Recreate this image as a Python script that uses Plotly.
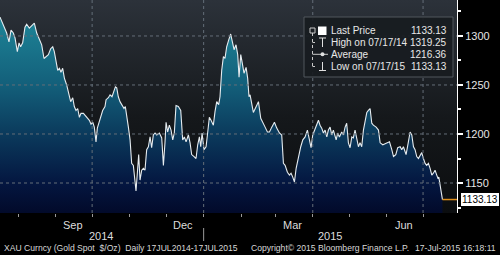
import plotly.graph_objects as go
import pandas as pd

# ---------------- data ----------------
start_date = "2014-07-17"
day_offsets = [
    0, 2.8, 5.5, 7.4, 9.1, 11, 12.4, 14.3, 15.7, 17, 18.7, 20.6, 22, 24.2, 26.1, 28.3,
    30.3, 32.5, 34.4, 36.3, 38, 39.9, 41.8, 43.5, 44.8, 46.2, 47.6, 49, 50.3, 51.7,
    53.1, 55, 56.4, 58.3, 60, 61.3, 62.7, 64.1, 65.5, 66.8, 68.8, 70.1, 72, 73.7,
    75.1, 76.5, 77.8, 79.2, 80.3, 81.7, 83, 84.7, 86.6, 87.5, 89.4, 90.8, 92.4, 93.5,
    95.2, 96.3, 97.6, 99, 100.7, 102.3, 103.4, 104.5, 105.9, 107.3, 108.6, 110,
    111.1, 112.2, 113.3, 114.4, 115.5, 116.9, 118.3, 119.6, 121, 122.4, 123.8,
    125.1, 126.5, 127.9, 129.3, 131.5, 133.4, 134.8, 136.1, 137, 138.3, 139.7,
    141.1, 142.5, 143.8, 145.2, 147.1, 149.1, 150.7, 152.1, 153.5, 155.4, 156.8,
    158.1, 160.1, 161.7, 163.1, 164.5, 165.6, 166.7, 168.3, 170, 171.1, 172.7,
    174.1, 176, 177.4, 178.8, 180.4, 181.5, 182.9, 184.3, 185.6, 187, 188.7, 190.3,
    191.7, 193.1, 194.7, 196.1, 197.2, 198.6, 199.9, 201.3, 203, 204.3, 205.4,
    206.3, 209, 211.3, 213.2, 215.1, 216.8, 218.7, 220.6, 222.3, 224.2, 226.4,
    228.3, 230.5, 232.4, 233.8, 235.2, 237.1, 238.8, 240.1, 241.5, 242.9, 244.3,
    246.2, 248.1, 249.8, 251.7, 253.6, 255.3, 256.6, 258, 259.4, 260.8, 262.7, 264,
    265.4, 266.8, 268.2, 269.6, 270.9, 272.3, 273.7, 275, 277.3, 278.6, 280, 281.9,
    283.3, 284.7, 286, 287.4, 288.8, 290.2, 291.5, 292.9, 294.3, 295.7, 297, 298.4,
    299.8, 301.2, 302.6, 303.9, 305.3, 306.7, 308, 310.3, 312.2, 313.6, 315.8,
    317.7, 319.6, 321.3, 323.2, 324.6, 326.5, 328.1, 330.1, 331.4, 332.8, 335,
    336.9, 338.3, 339.7, 341.1, 342.4, 343.8, 345.2, 346.6, 347.9, 349.3, 350.7, 352,
    353.4, 354.8, 356.2, 357.5, 358.9, 360.3, 361.2, 362, 362.8, 363.6, 364.3, 365,
]
prices = [
    1319.25, 1311, 1303, 1294, 1306, 1303, 1298, 1284, 1293, 1289, 1293, 1309, 1312, 1308, 1310, 1313,
    1303, 1296, 1291, 1277, 1279, 1281, 1287, 1289, 1284, 1274, 1265, 1267, 1263, 1267,
    1257, 1250, 1242, 1233, 1237, 1228, 1224, 1226, 1217, 1221, 1221, 1219, 1217, 1214,
    1210, 1212, 1207, 1192, 1206, 1212, 1219, 1224, 1228, 1235, 1237, 1240, 1238, 1243,
    1248, 1247, 1238, 1233, 1230, 1226, 1228, 1216, 1207, 1194, 1170, 1168,
    1153, 1142, 1160, 1179, 1153, 1163, 1165, 1163, 1184, 1187, 1197,
    1186, 1199, 1201, 1199, 1201, 1196, 1168, 1191, 1212, 1202, 1209,
    1204, 1194, 1201, 1229, 1228, 1224, 1194, 1197, 1192, 1199, 1191,
    1179, 1177, 1175, 1189, 1197, 1187, 1201, 1184, 1187, 1199, 1217,
    1214, 1209, 1223, 1233, 1230, 1238, 1265, 1279, 1277, 1289, 1296, 1302,
    1294, 1286, 1291, 1281, 1258, 1281, 1272, 1262, 1268, 1257, 1238,
    1240, 1222, 1228, 1233, 1216, 1211, 1207, 1202, 1202, 1207, 1212,
    1206, 1201, 1199, 1170, 1168, 1161, 1158, 1160, 1156, 1151, 1165,
    1177, 1187, 1194, 1197, 1204, 1194, 1186, 1199, 1204, 1207, 1214, 1209,
    1206, 1201, 1204, 1197, 1204, 1207, 1199, 1204, 1194, 1201, 1197, 1202,
    1199, 1207, 1211, 1191, 1186, 1197, 1196, 1204, 1194, 1187, 1191, 1187,
    1204, 1212, 1222, 1224, 1226, 1211, 1209, 1207, 1204, 1191, 1189,
    1190, 1191, 1192, 1184, 1177, 1179, 1186, 1187, 1184, 1187, 1179,
    1192, 1202, 1199, 1187, 1184, 1177, 1175, 1179, 1181, 1175, 1170, 1168,
    1170, 1165, 1158, 1160, 1163, 1158, 1155, 1156, 1150, 1143, 1135, 1133.13,
]
last_price = 1133.13

y_ticks = [1150, 1200, 1250, 1300]
y_range = [1119.4, 1336.7]
x_range = ["2014-07-17", "2015-07-29"]
quarter_lines = ["2014-10-01", "2015-01-01", "2015-04-01", "2015-07-01"]
month_starts = ["2014-08-01", "2014-09-01", "2014-10-01", "2014-11-01", "2014-12-01",
                "2015-01-01", "2015-02-01", "2015-03-01", "2015-04-01", "2015-05-01",
                "2015-06-01", "2015-07-01"]
month_label_dates = ["2014-09-15", "2014-12-15", "2015-03-15", "2015-06-15"]
month_labels = ["Sep", "Dec", "Mar", "Jun"]
year_label_dates = ["2014-10-08", "2015-04-15"]
year_labels = ["2014", "2015"]
year_separator = "2015-01-01"

legend_labels = ["Last Price", "High on 07/17/14", "Average", "Low on 07/17/15"]
legend_values = ["1133.13", "1319.25", "1216.36", "1133.13"]

footer_left = "XAU Curncy (Gold Spot  $/Oz)  Daily 17JUL2014-17JUL2015"
footer_mid = "Copyright\u00a9 2015 Bloomberg Finance L.P."
footer_right = "17-Jul-2015 16:18:11"

# ---------------- figure ----------------
dates = pd.Timestamp(start_date) + pd.to_timedelta(day_offsets, unit="D")

FONT = "Liberation Sans"
W, H = 457.0, 213.0  # plot area size in px


def px(x):
    return x / W


def py(y):
    return 1 - y / H


fig = go.Figure()

# plot background gradient
fig.add_trace(go.Scatter(
    x=x_range, y=[y_range[1], y_range[1]], mode="lines", line=dict(width=0),
    fill="tozeroy",
    fillgradient=dict(type="vertical", start=y_range[0], stop=y_range[1],
                      colorscale=[[0, "#0b0d0f"], [0.45, "#15181b"], [1, "#2c323a"]]),
    hoverinfo="skip", showlegend=False,
))

# price area
fig.add_trace(go.Scatter(
    x=dates, y=prices, mode="lines",
    line=dict(color="#e6ecf0", width=1.1),
    fill="tozeroy",
    fillgradient=dict(type="vertical", start=y_range[0], stop=1320,
                      colorscale=[[0, "#020a2a"], [0.15, "#041640"], [0.4, "#0b3a5c"],
                                  [0.65, "#135f7a"], [1, "#1e8598"]]),
    hoverinfo="skip", showlegend=False,
))

# last price line to axis
fig.add_trace(go.Scatter(
    x=[dates[-1], pd.Timestamp(x_range[1])], y=[last_price, last_price],
    mode="lines", line=dict(color="#e0901c", width=1.5),
    hoverinfo="skip", showlegend=False,
))

shapes = []
# gridlines (dotted, above fill)
for v in y_ticks:
    shapes.append(dict(type="line", xref="paper", yref="y", x0=0, x1=1, y0=v, y1=v,
                       line=dict(color="#646e78", width=1, dash="dot"), layer="above"))
for d in quarter_lines:
    shapes.append(dict(type="line", xref="x", yref="paper", x0=d, x1=d, y0=0, y1=1,
                       line=dict(color="#646e78", width=1, dash="dot"), layer="above"))
# year separator
shapes.append(dict(type="line", xref="x", yref="paper", x0=year_separator, x1=year_separator,
                   y0=py(228), y1=py(241), line=dict(color="#9a9a9a", width=1)))

# legend box
shapes.append(dict(type="rect", xref="paper", yref="paper", x0=px(304), x1=px(453),
                   y0=py(77), y1=py(17), fillcolor="rgba(24,28,32,0.93)",
                   line=dict(color="#50565d", width=1), layer="above"))
# legend icons
LC = "#c8c8c8"
shapes += [
    dict(type="rect", xref="paper", yref="paper", x0=px(310), x1=px(315), y0=py(33), y1=py(28),
         line=dict(color=LC, width=1), layer="above"),
    dict(type="rect", xref="paper", yref="paper", x0=px(318), x1=px(326.5), y0=py(35), y1=py(26.5),
         fillcolor="#ffffff", line=dict(color="#ffffff", width=0), layer="above"),
    dict(type="line", xref="paper", yref="paper", x0=px(312.5), x1=px(312.5), y0=py(33), y1=py(67),
         line=dict(color=LC, width=1, dash="dot"), layer="above"),
    # high: T
    dict(type="line", xref="paper", yref="paper", x0=px(312.5), x1=px(315), y0=py(42.5), y1=py(42.5),
         line=dict(color=LC, width=1), layer="above"),
    dict(type="line", xref="paper", yref="paper", x0=px(319), x1=px(326), y0=py(38), y1=py(38),
         line=dict(color="#e0e0e0", width=1), layer="above"),
    dict(type="line", xref="paper", yref="paper", x0=px(322.5), x1=px(322.5), y0=py(38), y1=py(47),
         line=dict(color="#e0e0e0", width=1), layer="above"),
    # average: -•-
    dict(type="line", xref="paper", yref="paper", x0=px(312.5), x1=px(328), y0=py(54.3), y1=py(54.3),
         line=dict(color=LC, width=1), layer="above"),
    dict(type="circle", xref="paper", yref="paper", x0=px(320.5), x1=px(324.5), y0=py(56.3), y1=py(52.3),
         fillcolor="#e0e0e0", line=dict(color="#e0e0e0", width=0), layer="above"),
    # low: ⊥
    dict(type="line", xref="paper", yref="paper", x0=px(312.5), x1=px(315), y0=py(66.5), y1=py(66.5),
         line=dict(color=LC, width=1), layer="above"),
    dict(type="line", xref="paper", yref="paper", x0=px(322.5), x1=px(322.5), y0=py(62), y1=py(70.5),
         line=dict(color="#e0e0e0", width=1), layer="above"),
    dict(type="line", xref="paper", yref="paper", x0=px(319), x1=px(326), y0=py(70.5), y1=py(70.5),
         line=dict(color="#e0e0e0", width=1), layer="above"),
]

annotations = []
row_y = [30.5, 42.5, 54.5, 66.5]
for lab, val, ry in zip(legend_labels, legend_values, row_y):
    annotations.append(dict(text=lab, xref="paper", yref="paper", x=px(329), y=py(ry),
                            xanchor="left", yanchor="middle", showarrow=False,
                            font=dict(family=FONT, size=10, color="#e8e8e8")))
    annotations.append(dict(text=val, xref="paper", yref="paper", x=px(449), y=py(ry),
                            xanchor="right", yanchor="middle", showarrow=False,
                            font=dict(family=FONT, size=10, color="#e8e8e8")))

for d, lab in zip(month_label_dates, month_labels):
    annotations.append(dict(text=lab, xref="x", yref="paper", x=d, y=py(224.5),
                            xanchor="center", yanchor="middle", showarrow=False,
                            font=dict(family=FONT, size=11, color="#dcdcdc")))
for d, lab in zip(year_label_dates, year_labels):
    annotations.append(dict(text=lab, xref="x", yref="paper", x=d, y=py(235.5),
                            xanchor="center", yanchor="middle", showarrow=False,
                            font=dict(family=FONT, size=11, color="#dcdcdc")))

# last price label
annotations.append(dict(text=f"{last_price:.2f}", xref="paper", yref="y", x=1, y=last_price,
                        xanchor="left", yanchor="middle", xshift=4, showarrow=False,
                        bgcolor="#ffffff", bordercolor="#ffffff", borderpad=0,
                        font=dict(family=FONT, size=10, color="#000000")))

# footer
annotations += [
    dict(text=footer_left, xref="paper", yref="paper", x=px(2), y=py(248), xanchor="left",
         yanchor="middle", showarrow=False, font=dict(family=FONT, size=8.6, color="#d8d8d8")),
    dict(text=footer_mid, xref="paper", yref="paper", x=px(249), y=py(248), xanchor="left",
         yanchor="middle", showarrow=False, font=dict(family=FONT, size=8.6, color="#d8d8d8")),
    dict(text=footer_right, xref="paper", yref="paper", x=px(498), y=py(248), xanchor="right",
         yanchor="middle", showarrow=False, font=dict(family=FONT, size=8.6, color="#d8d8d8")),
]

fig.update_layout(
    width=500, height=255,
    margin=dict(l=0, r=43, t=0, b=42),
    paper_bgcolor="#000000", plot_bgcolor="#000000",
    showlegend=False,
    shapes=shapes, annotations=annotations,
    xaxis=dict(
        type="date", range=x_range, showgrid=False, zeroline=False,
        tickvals=month_starts, ticktext=[""] * len(month_starts),
        ticks="outside", ticklen=3, tickcolor="#9a9a9a", tickwidth=1,
        showline=False, fixedrange=True,
    ),
    yaxis=dict(
        range=y_range, side="right", showgrid=False, zeroline=False,
        tickvals=y_ticks, ticks="outside", ticklen=5, tickwidth=2, tickcolor="#ffffff",
        showline=True, linecolor="#ffffff", linewidth=1,
        tickfont=dict(family=FONT, size=11, color="#e6e6e6"),
        minor=dict(dtick=25, tick0=1125, ticks="outside", ticklen=3, tickcolor="#ffffff"),
        fixedrange=True,
    ),
)

fig.write_html("out.html")
